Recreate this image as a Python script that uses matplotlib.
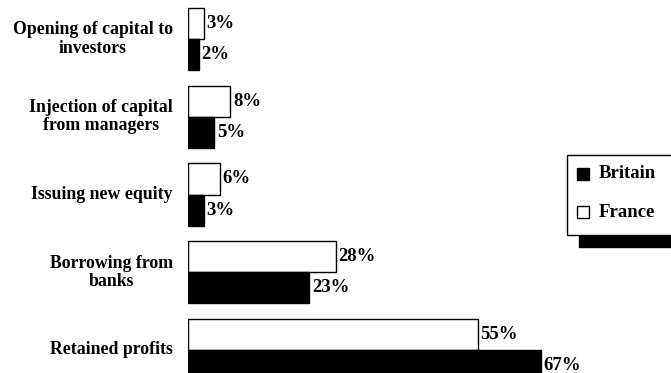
import matplotlib.pyplot as plt
from matplotlib.patches import Rectangle
import numpy as np

# sources of financing, top to bottom
sources = [
    "Opening of capital to\ninvestors",
    "Injection of capital\nfrom managers",
    "Issuing new equity",
    "Borrowing from\nbanks",
    "Retained profits",
]
france = [3, 8, 6, 28, 55]
britain = [2, 5, 3, 23, 67]
series = ["Britain", "France"]

W, H = 671, 373
plt.rcParams['font.family'] = ['Liberation Serif', 'DejaVu Serif']
plt.rcParams['font.weight'] = 'bold'

fig = plt.figure(figsize=(W / 100, H / 100), dpi=100)
ax = fig.add_axes([188 / W, 0, (W - 188) / W, 1])

y = np.arange(len(sources))
bh = 0.4
ax.barh(y - bh / 2, france, height=bh, color='white', edgecolor='black', linewidth=1.0)
ax.barh(y + bh / 2, britain, height=bh, color='black', edgecolor='black', linewidth=1.0)

ax.set_xlim(0, (W - 188) / 5.27)
ax.set_ylim((H - 39) / 77.75, -39 / 77.75)
ax.axis('off')

for i, (f, b) in enumerate(zip(france, britain)):
    ax.annotate(f"{f}%", xy=(f, i - bh / 2), xytext=(2, 0), textcoords='offset points',
                ha='left', va='center', fontsize=13.5, fontweight='bold')
    ax.annotate(f"{b}%", xy=(b, i + bh / 2), xytext=(2, 0), textcoords='offset points',
                ha='left', va='center', fontsize=13.5, fontweight='bold')
    ax.annotate(sources[i], xy=(0, i), xytext=(-11, 0), textcoords='offset points',
                ha='right', va='center', multialignment='center', fontsize=12.8,
                fontweight='bold', linespacing=1.1)


# legend box with a solid drop shadow, laid out in pixels
def px(x0, y0, w, h):
    return (x0 / W, 1 - (y0 + h) / H), w / W, h / H


xy, w, h = px(579, 167, 120, 80)
fig.add_artist(Rectangle(xy, w, h, transform=fig.transFigure, facecolor='black',
                         edgecolor='black', clip_on=False))
xy, w, h = px(567, 155, 120, 80)
fig.add_artist(Rectangle(xy, w, h, transform=fig.transFigure, facecolor='white',
                         edgecolor='black', linewidth=1.0, clip_on=False))
for name, ty, fc in [(series[0], 174, 'black'), (series[1], 212, 'white')]:
    xy, w, h = px(577, ty - 6, 12, 12)
    fig.add_artist(Rectangle(xy, w, h, transform=fig.transFigure, facecolor=fc,
                             edgecolor='black', linewidth=1.0))
    fig.text(599 / W, 1 - ty / H, name, ha='left', va='center', fontsize=13.5,
             fontweight='bold')

fig.savefig("out.png", dpi=100)
